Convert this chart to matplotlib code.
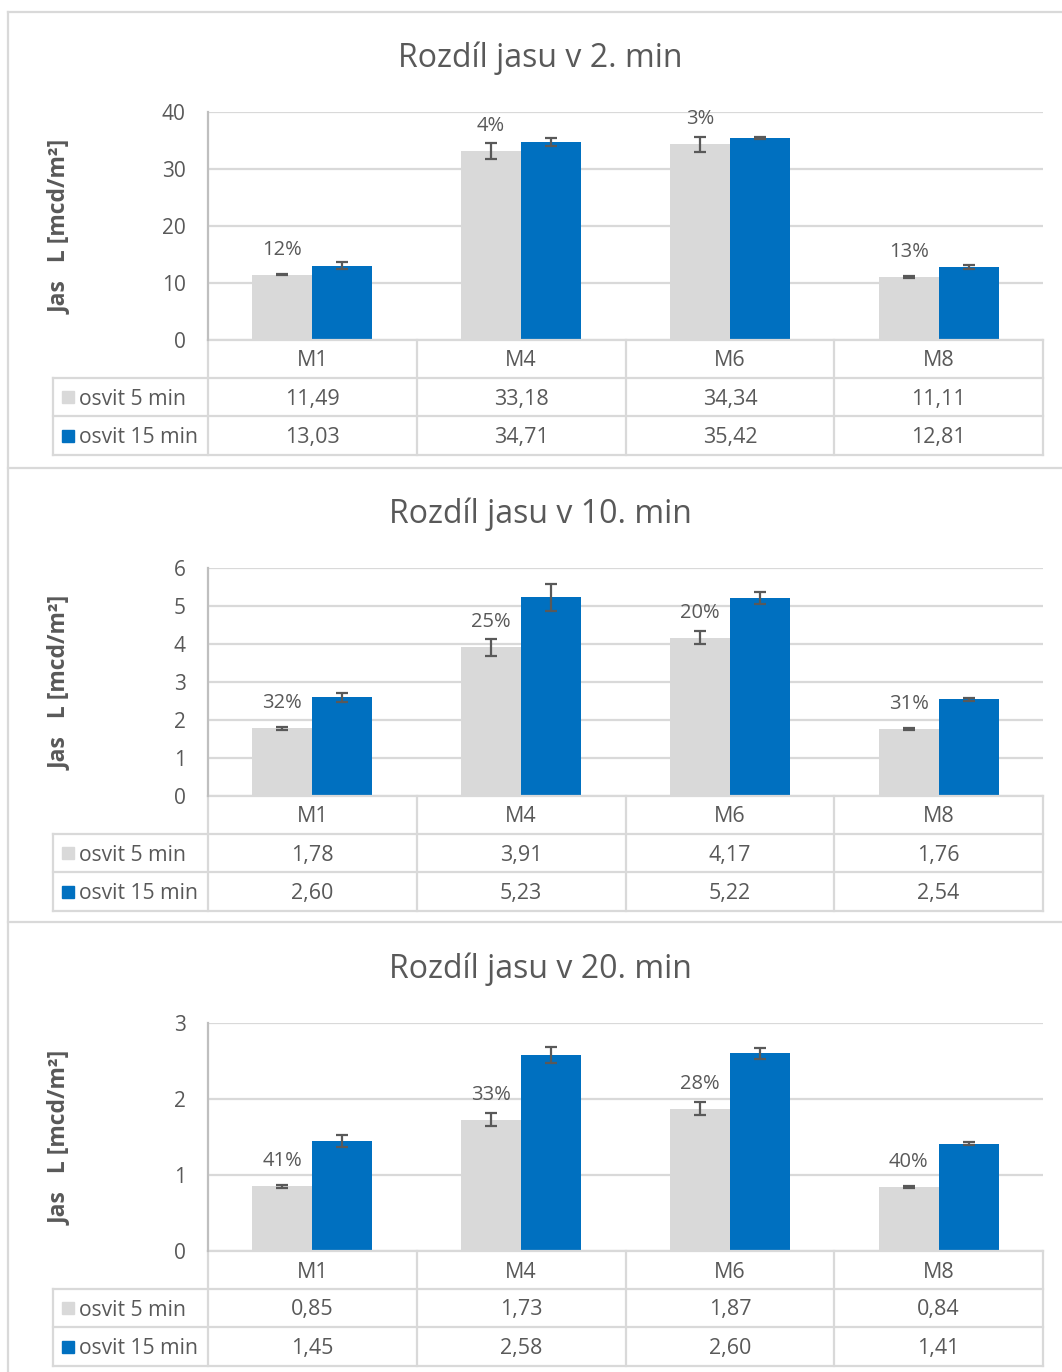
import numpy as np
import matplotlib
matplotlib.use("Agg")
import matplotlib.pyplot as plt
import matplotlib.transforms as mtransforms
from matplotlib.lines import Line2D

plt.rcParams['font.family'] = ['Open Sans', 'DejaVu Sans']

# data
kategorie = ["M1", "M4", "M6", "M8"]
serie = ["osvit 5 min", "osvit 15 min"]
nadpisy = ["Rozdíl jasu v 2. min", "Rozdíl jasu v 10. min", "Rozdíl jasu v 20. min"]

osvit5 = [[11.49, 33.18, 34.34, 11.11],
          [1.78, 3.91, 4.17, 1.76],
          [0.85, 1.73, 1.87, 0.84]]
osvit15 = [[13.03, 34.71, 35.42, 12.81],
           [2.60, 5.23, 5.22, 2.54],
           [1.45, 2.58, 2.60, 1.41]]
chyba5 = [[0.15, 1.35, 1.3, 0.15],
          [0.04, 0.23, 0.16, 0.02],
          [0.02, 0.09, 0.085, 0.015]]
chyba15 = [[0.65, 0.74, 0.2, 0.3],
           [0.12, 0.35, 0.16, 0.03],
           [0.076, 0.11, 0.07, 0.02]]
procenta = [["12%", "4%", "3%", "13%"],
            ["32%", "25%", "20%", "31%"],
            ["41%", "33%", "28%", "40%"]]
ymax = [40, 6, 3]
ykrok = [10, 1, 1]

SEDA = "#D9D9D9"
MODRA = "#0070C0"
TEXT = "#595959"
CARA = "#D9D9D9"

W, H = 1062, 1372
fig = plt.figure(figsize=(W / 100, H / 100), dpi=100)

def fy(py):
    return 1 - py / H

# okraje panelu
for py in [12, 468, 922]:
    fig.add_artist(Line2D([8 / W, 1], [fy(py), fy(py)], color=CARA, lw=1.6))
fig.add_artist(Line2D([8 / W, 8 / W], [fy(12), 0], color=CARA, lw=1.6))

x0, x1 = 208, 1043
px_na_kat = (x1 - x0) / 4
sirka = 0.287

for i in range(3):
    dy = [0, 456, 911][i]
    top, bot = 112 + dy, 340 + dy
    ax = fig.add_axes([x0 / W, fy(bot), (x1 - x0) / W, (bot - top) / H])
    x = np.arange(len(kategorie))
    ax.bar(x - sirka / 2, osvit5[i], sirka, color=SEDA, zorder=2,
           yerr=chyba5[i], error_kw=dict(ecolor=TEXT, elinewidth=1.6, capsize=4.5, capthick=1.6))
    ax.bar(x + sirka / 2, osvit15[i], sirka, color=MODRA, zorder=2,
           yerr=chyba15[i], error_kw=dict(ecolor=TEXT, elinewidth=1.6, capsize=4.5, capthick=1.6))
    for j in range(len(kategorie)):
        ax.annotate(procenta[i][j], (x[j] - sirka / 2, osvit5[i][j]), xytext=(0, 18),
                    textcoords="offset points", ha="center", va="center",
                    fontsize=14.5, color=TEXT)
    ax.set_xlim(-0.5, 3.5)
    ax.set_ylim(0, ymax[i])
    ax.set_yticks(np.arange(0, ymax[i] + 0.001, ykrok[i]))
    ax.set_xticks([])
    ax.tick_params(axis="y", length=0, pad=16, labelsize=15, labelcolor=TEXT)
    ax.grid(axis="y", color=CARA, lw=1.6, zorder=0)
    ax.set_axisbelow(True)
    for s in ["top", "right", "bottom"]:
        ax.spines[s].set_visible(False)
    ax.spines["left"].set_color("#BFBFBF")
    ax.spines["left"].set_linewidth(1.6)

    fig.text(540 / W, fy(58 + dy), nadpisy[i], ha="center", va="center",
             fontsize=23, color=TEXT)
    fig.text(60 / W, fy(227 + dy), "Jas   L [mcd/m²]", rotation=90, ha="center",
             va="center", fontsize=16.5, fontweight="bold", color=TEXT)

    # tabulka pod grafem
    tr = mtransforms.blended_transform_factory(ax.transData, fig.transFigure)
    xl = -0.5 + (53 - x0) / px_na_kat
    r0, r1, r2, r3 = bot, bot + 38, bot + 76, bot + 115
    kw = dict(transform=tr, clip_on=False, color=CARA, lw=1.6)
    ax.plot([-0.5, 3.5], [fy(r0), fy(r0)], **kw)
    for r in [r1, r2, r3]:
        ax.plot([xl, 3.5], [fy(r), fy(r)], **kw)
    for k in range(5):
        ax.plot([k - 0.5, k - 0.5], [fy(r0), fy(r3)], **kw)
    ax.plot([xl, xl], [fy(r1), fy(r3)], **kw)
    for j, kat in enumerate(kategorie):
        ax.text(j, fy((r0 + r1) / 2 + 2), kat, transform=tr, ha="center", va="center",
                fontsize=15.5, color=TEXT)
        ax.text(j, fy((r1 + r2) / 2 + 2), f"{osvit5[i][j]:.2f}".replace(".", ","), transform=tr,
                ha="center", va="center", fontsize=15.5, color=TEXT)
        ax.text(j, fy((r2 + r3) / 2 + 2), f"{osvit15[i][j]:.2f}".replace(".", ","), transform=tr,
                ha="center", va="center", fontsize=15.5, color=TEXT)
    xm = -0.5 + (68 - x0) / px_na_kat
    xt = -0.5 + (79 - x0) / px_na_kat
    for (ra, rb), nazev, barva in zip([(r1, r2), (r2, r3)], serie, [SEDA, MODRA]):
        yc = fy((ra + rb) / 2)
        ax.plot([xm], [yc], marker="s", ms=9, color=barva, transform=tr, clip_on=False, lw=0)
        ax.text(xt, fy((ra + rb) / 2 + 2), nazev, transform=tr, ha="left", va="center",
                fontsize=15.2, color=TEXT)

fig.savefig("out.png", dpi=100)
